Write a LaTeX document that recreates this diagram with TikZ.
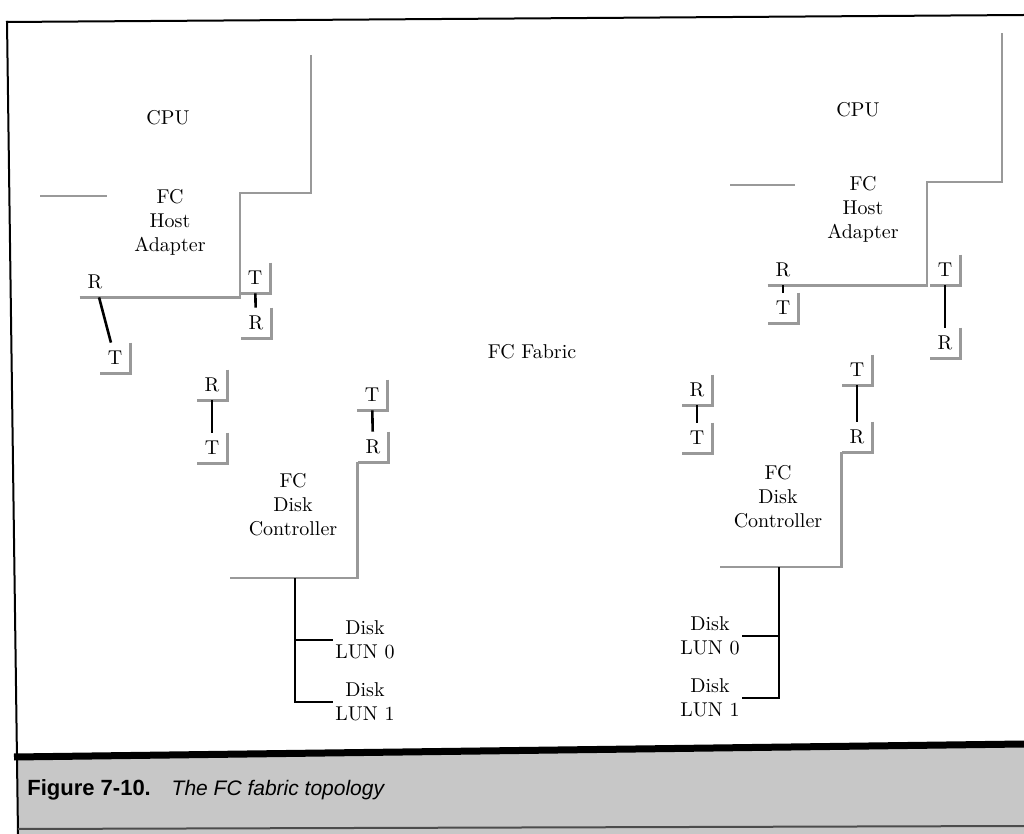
\documentclass[tikz,border=0pt]{standalone}
\usepackage{fontspec}
\newfontfamily\capfont{Liberation Sans}
\usepackage{tikz}
\usetikzlibrary{positioning}

\begin{document}
\begin{tikzpicture}[
  x=0.5pt, y=-0.5pt,
  lbl/.style={font=\normalsize, align=center, inner sep=1pt},
  port/.style={font=\normalsize, inner sep=0pt,
               minimum width=15pt, minimum height=15pt},
  shadow/.style={draw=black!40, line width=1.2pt},
  link/.style={black, line width=1.3pt},
  bus/.style={black, line width=0.6pt},
  frame/.style={black, line width=1pt},
  capt/.style={inner sep=0pt, anchor=west}
]
  \useasboundingbox (0,0) rectangle (1024,834);

  % frame and caption band
  \fill[black!22] (18,760) -- (1024,747) -- (1024,834) -- (18,834) -- cycle;
  \draw[frame] (6,22) -- (1024,15);
  \draw[frame] (7,21) -- (18,834);
  \draw[black, line width=3.5pt] (14,757) -- (1024,744);
  \draw[black!70, line width=1pt] (18,829) -- (1024,826);

  % left system
  \node[lbl] (cpuA)  at (168,118) {CPU};
  \node[lbl] (hostA) at (170,222) {FC\\Host\\Adapter};
  \node[lbl] (ctrlA) at (293,505) {FC\\Disk\\Controller};
  \node[lbl] (diskA0) at (365,640) {Disk\\LUN 0};
  \node[lbl] (diskA1) at (365,702) {Disk\\LUN 1};

  \node[port] (hostA-r) at (95,282)  {R};
  \node[port] (fabA-t)  at (115,358) {T};
  \node[port] (hostA-t) at (255,278) {T};
  \node[port] (fabA-r)  at (256,323) {R};
  \node[port] (fabA-r2) at (212,385) {R};
  \node[port] (ctrlA-t) at (212,448) {T};
  \node[port] (fabA-t2) at (372,395) {T};
  \node[port] (ctrlA-r) at (373,447) {R};

  % fabric
  \node[lbl] (fabric) at (532,352) {FC Fabric};

  % right system
  \node[lbl] (cpuB)  at (858,110) {CPU};
  \node[lbl] (hostB) at (863,209) {FC\\Host\\Adapter};
  \node[lbl] (ctrlB) at (778,497) {FC\\Disk\\Controller};
  \node[lbl] (diskB0) at (710,636) {Disk\\LUN 0};
  \node[lbl] (diskB1) at (710,698) {Disk\\LUN 1};

  \node[port] (hostB-r) at (783,270) {R};
  \node[port] (fabB-t)  at (783,308) {T};
  \node[port] (hostB-t) at (945,270) {T};
  \node[port] (fabB-r)  at (945,343) {R};
  \node[port] (fabB-r2) at (697,390) {R};
  \node[port] (ctrlB-t) at (697,438) {T};
  \node[port] (fabB-t2) at (857,370) {T};
  \node[port] (ctrlB-r) at (857,437) {R};

  % box edges left by the scan
  \foreach \p in {fabA-t,hostA-t,fabA-r,fabA-r2,ctrlA-t,fabA-t2,ctrlA-r,
                  fabB-t,hostB-t,fabB-r,fabB-r2,ctrlB-t,fabB-t2,ctrlB-r}
    \draw[shadow] (\p.north east) |- (\p.south west);
  \draw[shadow] (hostA-r.south west) -| (240,193) -| (311,55);
  \draw[shadow] (40,196) -- (107,196);
  \draw[shadow] (ctrlA-r.south west) |- (230,578);
  \draw[shadow] (hostB-r.south west) -| (927,182) -| (1002,33);
  \draw[shadow] (730,185) -- (795,185);
  \draw[shadow] (ctrlB-r.south west) |- (720,567);

  % links
  \draw[link] (hostA-r) -- (fabA-t);
  \draw[link] (hostA-t) -- (fabA-r);
  \draw[link] (fabA-r2) -- (ctrlA-t);
  \draw[link] (fabA-t2) -- (ctrlA-r);
  \draw[link] (hostB-r) -- (fabB-t);
  \draw[link] (hostB-t) -- (fabB-r);
  \draw[link] (fabB-r2) -- (ctrlB-t);
  \draw[link] (fabB-t2) -- (ctrlB-r);

  % disk buses
  \coordinate (busA) at (295,578);
  \draw[bus] (busA) |- (diskA0.west);
  \draw[bus] (busA) |- (diskA1.west);
  \coordinate (busB) at (779,567);
  \draw[bus] (busB) |- (diskB0.east);
  \draw[bus] (busB) |- (diskB1.east);

  % caption
  \node[capt, font=\capfont\bfseries\fontsize{11}{13}\selectfont] (fignum) at (27,790) {Figure 7-10.};
  \node[capt, right=10pt of fignum, font=\capfont\itshape\fontsize{10.5}{13}\selectfont] (figtitle) {The FC fabric topology};
\end{tikzpicture}
\end{document}
